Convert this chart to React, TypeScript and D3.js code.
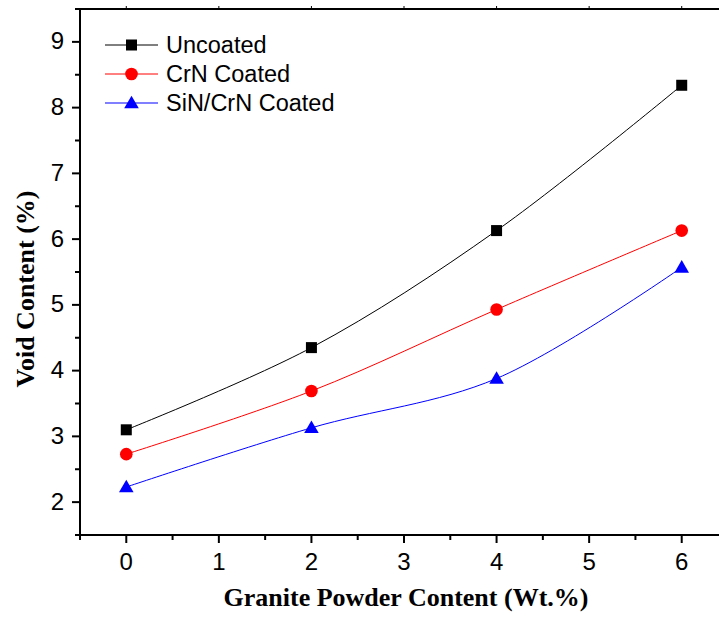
import React from "react";
import * as d3 from "d3";

const xValues = [0, 2, 4, 6];
const uncoated = [3.1, 4.35, 6.13, 8.34];
const crnCoated = [2.73, 3.69, 4.93, 6.13];
const sinCrnCoated = [2.23, 3.13, 3.88, 5.57];
const seriesNames = ["Uncoated", "CrN Coated", "SiN/CrN Coated"];
const seriesColors = ["#000000", "#ff0000", "#0000ff"];
const seriesMarkers = ["square", "circle", "triangle"];
const xMajorTicks = [0, 1, 2, 3, 4, 5, 6];
const xMinorTicks = [-0.5, 0.5, 1.5, 2.5, 3.5, 4.5, 5.5, 6.5];
const yMajorTicks = [2, 3, 4, 5, 6, 7, 8, 9];
const yMinorTicks = [1.5, 2.5, 3.5, 4.5, 5.5, 6.5, 7.5, 8.5, 9.5];

const W = 719, H = 621;
const left = 80, top = 9, right = 728, bottom = 535;

function Marker({ type, x, y, color }: { type: string; x: number; y: number; color: string }) {
  if (type === "square") return <rect x={x - 5.5} y={y - 5.5} width={11} height={11} fill={color} />;
  if (type === "circle") return <circle cx={x} cy={y} r={6.3} fill={color} />;
  const s = 7.3;
  return <path d={`M${x},${y - s} L${x + s},${y + s * 0.72} L${x - s},${y + s * 0.72} Z`} fill={color} />;
}

export default function App() {
  const x = d3.scaleLinear().domain([-0.5, 6.5]).range([left, right]);
  const y = d3.scaleLinear().domain([1.5, 9.5]).range([bottom, top]);
  const allSeries = [uncoated, crnCoated, sinCrnCoated];
  const line = d3
    .line<[number, number]>()
    .x((d) => x(d[0]))
    .y((d) => y(d[1]))
    .curve(d3.curveCatmullRom.alpha(0.5));
  const font = "'Liberation Sans', Arial, sans-serif";
  const serif = "'Liberation Serif', 'Times New Roman', serif";
  return (
    <svg width={W} height={H} style={{ position: "absolute", left: 0, top: 0, background: "#fff" }}>
      <rect width={W} height={H} fill="#fff" />
      {allSeries.map((s, i) => (
        <path
          key={"l" + i}
          d={line(xValues.map((xv, j) => [xv, s[j]] as [number, number])) || ""}
          fill="none"
          stroke={seriesColors[i]}
          strokeWidth={1}
        />
      ))}
      {allSeries.map((s, i) =>
        s.map((v, j) => (
          <Marker key={"m" + i + j} type={seriesMarkers[i]} x={x(xValues[j])} y={y(v)} color={seriesColors[i]} />
        ))
      )}
      <line x1={left} x2={left} y1={top} y2={bottom + 1} stroke="#000" strokeWidth={2} />
      <line x1={left - 1} x2={W} y1={bottom} y2={bottom} stroke="#000" strokeWidth={2} />
      <line x1={left - 1} x2={W} y1={top} y2={top} stroke="#000" strokeWidth={2} />
      {xMajorTicks.map((t) => (
        <g key={"xt" + t}>
          <line x1={x(t)} x2={x(t)} y1={bottom} y2={bottom + 8} stroke="#000" strokeWidth={2} />
          <line x1={x(t)} x2={x(t)} y1={top} y2={top - 3} stroke="#000" strokeWidth={1} />
          <text x={x(t)} y={bottom + 35} textAnchor="middle" fontFamily={font} fontSize={24}>
            {t}
          </text>
        </g>
      ))}
      {xMinorTicks.map((t) => (
        <line key={"xm" + t} x1={x(t)} x2={x(t)} y1={bottom} y2={bottom + 5} stroke="#000" strokeWidth={2} />
      ))}
      {yMajorTicks.map((t) => (
        <g key={"yt" + t}>
          <line x1={left} x2={left - 8} y1={y(t)} y2={y(t)} stroke="#000" strokeWidth={2} />
          <text x={left - 16} y={y(t) + 7.5} textAnchor="end" fontFamily={font} fontSize={24}>
            {t}
          </text>
        </g>
      ))}
      {yMinorTicks.map((t) => (
        <line key={"ym" + t} x1={left} x2={left - 5} y1={y(t)} y2={y(t)} stroke="#000" strokeWidth={2} />
      ))}
      <text x={406} y={606} textAnchor="middle" fontFamily={serif} fontWeight="bold" fontSize={26}>
        Granite Powder Content (Wt.%)
      </text>
      <text
        transform={`translate(34, 289) rotate(-90)`}
        textAnchor="middle"
        fontFamily={serif}
        fontWeight="bold"
        fontSize={26}
      >
        Void Content (%)
      </text>
      {seriesNames.map((name, i) => {
        const ly = 45 + i * 29;
        return (
          <g key={"lg" + i}>
            <line x1={105} x2={158} y1={ly} y2={ly} stroke={seriesColors[i]} strokeWidth={1} />
            <Marker type={seriesMarkers[i]} x={131.5} y={ly} color={seriesColors[i]} />
            <text x={166} y={ly + 8} fontFamily={font} fontSize={23.5}>
              {name}
            </text>
          </g>
        );
      })}
    </svg>
  );
}
